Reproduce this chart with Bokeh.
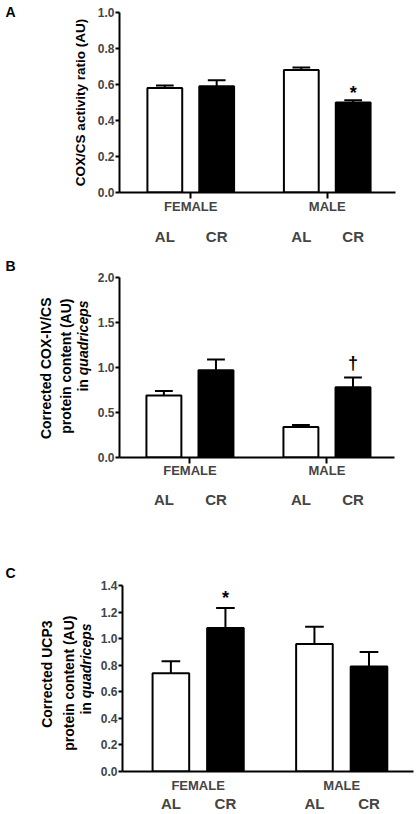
import math

from bokeh.core.properties import value
from bokeh.embed import file_html
from bokeh.layouts import column, row
from bokeh.models import FixedTicker, LinearAxis, NumeralTickFormatter, Range1d
from bokeh.plotting import figure
from bokeh.resources import INLINE

FONT = "Liberation Sans"

groups = ["FEMALE", "MALE"]
diets = ["AL", "CR"]

# A: COX/CS activity ratio (AU)
a_al = [0.58, 0.68]
a_al_sem = [0.014, 0.015]
a_cr = [0.59, 0.50]
a_cr_sem = [0.033, 0.013]
a_ticks = [0.0, 0.2, 0.4, 0.6, 0.8, 1.0]
a_mark = ("MALE", "CR", "*", 0.555)

# B: corrected COX-IV/CS protein content (AU) in quadriceps
b_al = [0.69, 0.34]
b_al_sem = [0.05, 0.02]
b_cr = [0.97, 0.78]
b_cr_sem = [0.12, 0.11]
b_ticks = [0.0, 0.5, 1.0, 1.5, 2.0]
b_mark = ("MALE", "CR", "\u2020", 1.05)

# C: corrected UCP3 protein content (AU) in quadriceps
c_al = [0.74, 0.96]
c_al_sem = [0.09, 0.13]
c_cr = [1.08, 0.79]
c_cr_sem = [0.15, 0.11]
c_ticks = [0.0, 0.2, 0.4, 0.6, 0.8, 1.0, 1.2, 1.4]
c_mark = ("FEMALE", "CR", "*", 1.305)

OFFSET = 0.19   # bar offset from group centre
BAR_W = 0.255
CAP = 0.13
LABEL_W = 94    # width of the strip holding panel letter and y title


def title_strip(height, texts):
    # narrow figure, frame == canvas, y measured from the top in pixels
    p = figure(width=LABEL_W, height=height, output_backend="svg", toolbar_location=None,
               x_range=Range1d(0, LABEL_W), y_range=Range1d(0, height),
               x_axis_location=None, y_axis_location=None, frame_align=False,
               min_border_left=0, min_border_right=0, min_border_top=0, min_border_bottom=0)
    p.xgrid.visible = False
    p.ygrid.visible = False
    p.outline_line_color = None
    for text, x, y, size, style, angle, align in texts:
        p.text(x=[x], y=[height - y], text=[text], angle=angle, text_align=align,
               text_baseline="middle", text_font=value(FONT), text_font_size=size,
               text_font_style=style, text_color="black")
    return p


def make_panel(al, al_sem, cr, cr_sem, ticks, mark, height, x_start, x_end,
               left, right, top, bottom, group_tick, group_standoff, diet_standoff):
    p = figure(width=417 - LABEL_W, height=height, output_backend="svg",
               toolbar_location=None, frame_align=False,
               x_range=Range1d(x_start, x_end), y_range=Range1d(0, ticks[-1]),
               min_border_left=left, min_border_right=right,
               min_border_top=top, min_border_bottom=bottom)
    p.xgrid.visible = False
    p.ygrid.visible = False
    p.outline_line_color = None

    gx = list(range(len(groups)))
    al_x = [g - OFFSET for g in gx]
    cr_x = [g + OFFSET for g in gx]
    for xs, m, s, fill in ((al_x, al, al_sem, "white"), (cr_x, cr, cr_sem, "black")):
        tops = [a + b for a, b in zip(m, s)]
        p.segment(xs, m, xs, tops, line_color="black", line_width=2)
        p.segment([x - CAP / 2 for x in xs], tops, [x + CAP / 2 for x in xs], tops,
                  line_color="black", line_width=2)
        p.vbar(x=xs, top=m, bottom=0, width=BAR_W, fill_color=fill,
               line_color="black", line_width=2)

    g, d, sym, y = mark
    mx = groups.index(g) + (OFFSET if d == "CR" else -OFFSET)
    p.text(x=[mx], y=[y], text=[sym], text_font=value(FONT), text_font_style="bold",
           text_font_size="18px", text_align="center", text_baseline="middle")

    yax = p.yaxis[0]
    yax.ticker = FixedTicker(ticks=ticks)
    yax.formatter = NumeralTickFormatter(format="0.0")
    yax.major_tick_out = 4
    yax.major_tick_in = 0
    yax.minor_tick_out = 0
    yax.minor_tick_in = 0
    yax.axis_line_width = 2
    yax.major_tick_line_width = 2
    yax.major_label_standoff = 1
    yax.major_label_text_font = FONT
    yax.major_label_text_font_size = "12px"
    yax.major_label_text_font_style = "bold"

    xax = p.xaxis[0]
    xax.ticker = FixedTicker(ticks=gx)
    xax.major_label_overrides = {g: name for g, name in zip(gx, groups)}
    xax.major_tick_out = 6 if group_tick else 0
    xax.major_tick_in = 0
    if not group_tick:
        xax.major_tick_line_color = None
    xax.major_tick_line_width = 2
    xax.axis_line_width = 2
    xax.major_label_standoff = group_standoff
    xax.major_label_text_font = FONT
    xax.major_label_text_font_size = "13px"
    xax.major_label_text_font_style = "bold"

    dax = LinearAxis(ticker=FixedTicker(ticks=al_x + cr_x),
                     major_label_overrides={x: diets[0] for x in al_x} | {x: diets[1] for x in cr_x},
                     axis_line_color=None, major_tick_line_color=None,
                     minor_tick_line_color=None, major_tick_out=0, major_tick_in=0,
                     major_label_standoff=diet_standoff,
                     major_label_text_font=FONT, major_label_text_font_size="15px",
                     major_label_text_font_style="bold")
    p.add_layout(dax, "below")
    return p


UP = math.pi / 2

la = title_strip(258, [
    ("A", 5, 11, "14px", "bold", 0, "left"),
    ("COX/CS activity ratio (AU)", 80, 102, "13.5px", "bold", UP, "center"),
])
pa = make_panel(a_al, a_al_sem, a_cr, a_cr_sem, a_ticks, a_mark, 258, -0.522, 1.5,
                22, 22, 12, 66, True, 0, 11)

lb = title_strip(277, [
    ("B", 5, 7, "14px", "bold", 0, "left"),
    ("Corrected COX-IV/CS", 45.5, 39, "14px", "bold", UP, "right"),
    ("protein content (AU)", 65, 40, "14px", "bold", UP, "right"),
    ("quadriceps", 82.5, 42, "14px", "bold italic", UP, "right"),
    ("in", 82.5, 120.6, "14px", "bold", UP, "right"),
])
pb = make_panel(b_al, b_al_sem, b_cr, b_cr_sem, b_ticks, b_mark, 277, -0.514, 1.493,
                23, 23, 19, 78, True, -1, 10)

lc = title_strip(279, [
    ("C", 5, 37, "14px", "bold", 0, "left"),
    ("Corrected UCP3", 46.5, 85, "14px", "bold", UP, "right"),
    ("protein content (AU)", 68, 80, "14px", "bold", UP, "right"),
    ("quadriceps", 85.5, 88, "14px", "bold italic", UP, "right"),
    ("in", 85.5, 166.6, "14px", "bold", UP, "right"),
])
pc = make_panel(c_al, c_al_sem, c_cr, c_cr_sem, c_ticks, c_mark, 279, -0.527, 1.5,
                28, 4, 50, 41, False, 6, -1)

layout = column(row(la, pa, spacing=0), row(lb, pb, spacing=0), row(lc, pc, spacing=0),
                spacing=0)
open("out.html", "w").write(file_html(layout, INLINE))
